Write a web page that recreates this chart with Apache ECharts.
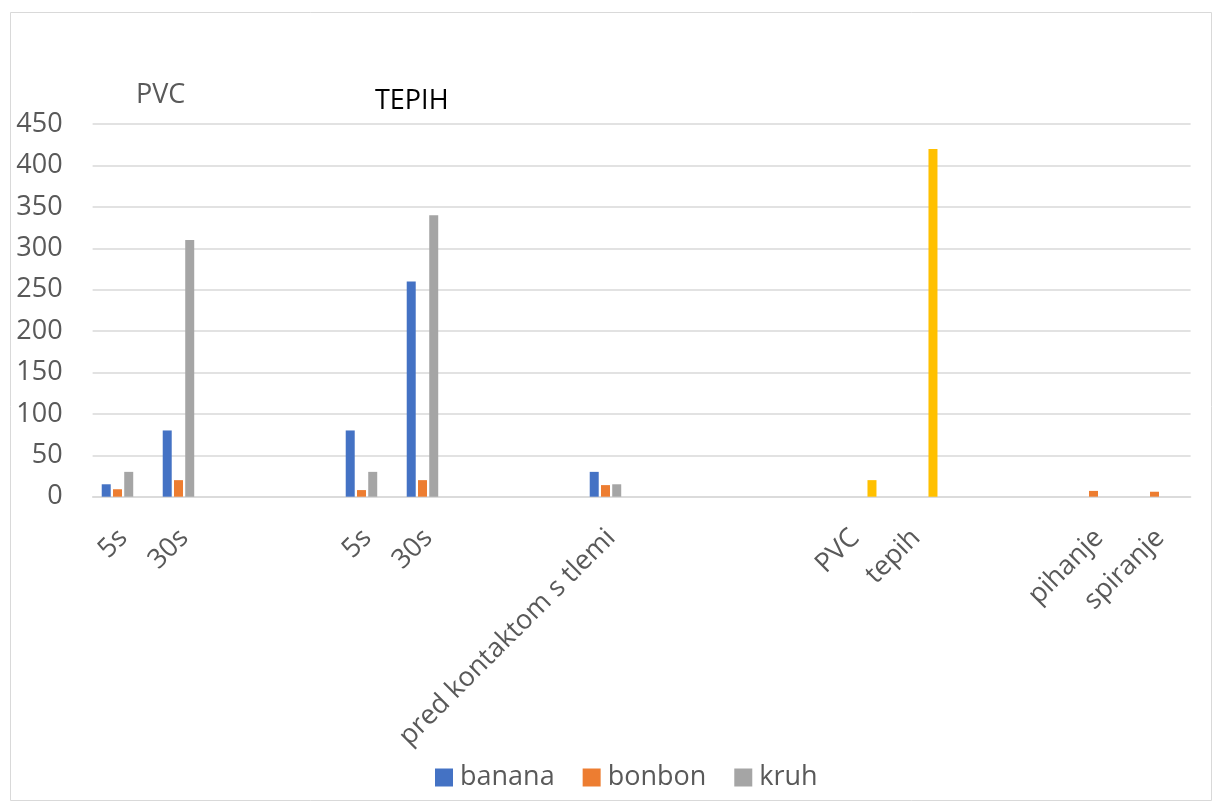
<!DOCTYPE html>
<html>
<head>
<meta charset="utf-8">
<script src="https://cdn.jsdelivr.net/npm/echarts@6/dist/echarts.min.js"></script>
<style>
  html, body { margin: 0; padding: 0; background: #ffffff; }
  #chart { width: 1221px; height: 809px; }
</style>
</head>
<body>
<div id="chart"></div>
<script>
// Category labels along the x axis (blank slots separate the groups)
const categories = ['5s', '30s', '', '', '5s', '30s', '', '', 'pred kontaktom s tlemi',
  '', '', '', 'PVC', 'tepih', '', '', 'pihanje', 'spiranje'];

// Series values, one per category (null = no bar)
const banana = [15, 80, null, null, 80, 260, null, null, 30,
  null, null, null, null, null, null, null, null, null];
const bonbon = [9, 20, null, null, 8, 20, null, null, 14,
  null, null, null, null, null, null, null, 7, 6];
const kruh = [30, 310, null, null, 30, 340, null, null, 15,
  null, null, null, null, null, null, null, null, null];
const tla = [null, null, null, null, null, null, null, null, null,
  null, null, null, 20, 420, null, null, null, null];

// Y axis range
const yMin = 0, yMax = 450, yStep = 50;

const FONT = '"Open Sans", "Noto Sans", sans-serif';
const chart = echarts.init(document.getElementById('chart'), null, { renderer: 'canvas' });

function barSeries(name, data, color) {
  return {
    name: name,
    type: 'bar',
    data: data,
    barWidth: 9,
    barGap: '25%',
    itemStyle: { color: color },
    emphasis: { disabled: true }
  };
}

chart.setOption({
  animation: false,
  backgroundColor: '#ffffff',
  textStyle: { fontFamily: FONT },
  title: [
    { text: 'PVC', left: 131, top: 77,
      textStyle: { fontFamily: FONT, fontSize: 27, fontWeight: 'normal', color: '#595959' } },
    { text: 'TEPIH', left: 370, top: 83,
      textStyle: { fontFamily: FONT, fontSize: 27, fontWeight: 'normal', color: '#000000' } }
  ],
  graphic: [{
    type: 'rect',
    shape: { x: 10.5, y: 12.5, width: 1201, height: 788 },
    style: { fill: 'none', stroke: '#d9d9d9', lineWidth: 1 },
    silent: true
  }],
  legend: {
    data: ['banana', 'bonbon', 'kruh'],
    left: 430,
    top: 759,
    itemWidth: 18,
    itemHeight: 18,
    itemGap: 28,
    icon: 'rect',
    textStyle: { fontFamily: FONT, fontSize: 27, color: '#595959', padding: [0, 0, 0, 2] }
  },
  grid: { left: 92.6, right: 30.4, top: 124.1, bottom: 312.3, containLabel: false },
  xAxis: {
    type: 'category',
    data: categories,
    axisLine: { show: true, lineStyle: { color: '#d9d9d9', width: 1.5 } },
    axisTick: { show: false },
    axisLabel: {
      interval: 0,
      rotate: 45,
      margin: 37,
      fontFamily: FONT,
      fontSize: 27,
      color: '#595959'
    }
  },
  yAxis: {
    type: 'value',
    min: yMin,
    max: yMax,
    interval: yStep,
    axisLine: { show: false },
    axisTick: { show: false },
    splitLine: { lineStyle: { color: '#d9d9d9', width: 1.5 } },
    axisLabel: {
      margin: 30,
      fontFamily: FONT,
      fontSize: 27,
      color: '#595959'
    }
  },
  series: [
    barSeries('banana', banana, '#4472c4'),
    barSeries('bonbon', bonbon, '#ed7d31'),
    barSeries('kruh', kruh, '#a5a5a5'),
    barSeries('tla', tla, '#ffc000')
  ]
});
</script>
</body>
</html>
